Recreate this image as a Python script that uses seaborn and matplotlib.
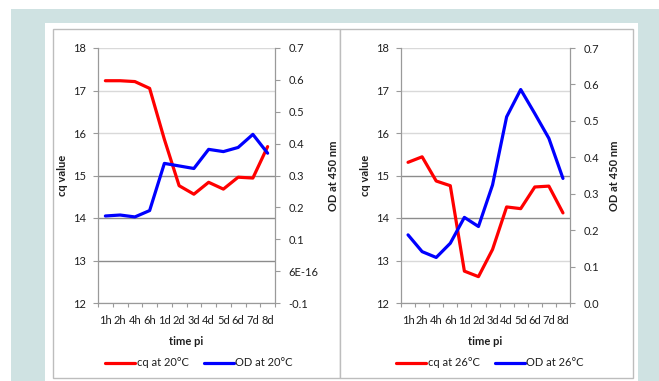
# cq value and OD over time post infection, 20°C vs 26°C
import numpy as np
import pandas as pd
import seaborn as sns
import matplotlib.pyplot as plt
from matplotlib.patches import Rectangle

# data
time_pi = ["1h", "2h", "4h", "6h", "1d", "2d", "3d", "4d", "5d", "6d", "7d", "8d"]
cq_20 = [17.23, 17.23, 17.21, 17.05, 15.85, 14.76, 14.56, 14.84, 14.68, 14.96, 14.94, 15.68]
od_20 = [0.173, 0.176, 0.170, 0.190, 0.338, 0.330, 0.322, 0.382, 0.375, 0.388, 0.429, 0.370]
cq_26 = [15.31, 15.44, 14.87, 14.76, 12.75, 12.62, 13.26, 14.26, 14.22, 14.73, 14.75, 14.12]
od_26 = [0.187, 0.141, 0.125, 0.164, 0.235, 0.210, 0.324, 0.511, 0.586, 0.520, 0.452, 0.342]

cq_ticks = [12, 13, 14, 15, 16, 17, 18]
od_ticks_20 = [-0.1, 0.0, 0.1, 0.2, 0.3, 0.4, 0.5, 0.6, 0.7]
od_labels_20 = ["-0.1", "6E-16", "0.1", "0.2", "0.3", "0.4", "0.5", "0.6", "0.7"]
od_ticks_26 = [0.0, 0.1, 0.2, 0.3, 0.4, 0.5, 0.6, 0.7]
od_labels_26 = ["0.0", "0.1", "0.2", "0.3", "0.4", "0.5", "0.6", "0.7"]

sns.set_theme(style="white")
plt.rcParams["font.family"] = ["Lato", "DejaVu Sans"]

W, H = 659, 381
fig = plt.figure(figsize=(W / 100, H / 100), dpi=100)
fig.patch.set_facecolor("white")


def fx(px):
    return px / W


def fy(py):
    return 1 - py / H


def box(x0, y0, x1, y1, **kw):
    fig.add_artist(Rectangle((fx(x0), fy(y1)), fx(x1) - fx(x0), fy(y0) - fy(y1),
                             transform=fig.transFigure, **kw))


# page background like the source figure
box(11, 9, 659, 381, facecolor="#cfe2e2", edgecolor="none", zorder=-5)
box(45, 23, 638, 381, facecolor="white", edgecolor="none", zorder=-4)
box(53, 29, 340, 378, facecolor="white", edgecolor="#bdbdbd", lw=1.0, zorder=-3)
box(340, 29, 633, 378, facecolor="white", edgecolor="#bdbdbd", lw=1.0, zorder=-3)

TXT = "#1f1f1f"
AX_COL = "#9a9a9a"
FS = 8


def panel(x0, x1, cq, od, od_ticks, od_labels, od_lim, temp, grid_cols, leg_x):
    ax = fig.add_axes([fx(x0), fy(303), fx(x1) - fx(x0), fy(48) - fy(303)])
    df = pd.DataFrame({"time": time_pi, "cq": cq, "od": od})
    sns.lineplot(data=df, x="time", y="cq", ax=ax, color="#ff0000", lw=2.3,
                 sort=False, solid_joinstyle="round", solid_capstyle="round")
    ax2 = ax.twinx()
    sns.lineplot(data=df, x="time", y="od", ax=ax2, color="#0000ff", lw=2.3,
                 sort=False, solid_joinstyle="round", solid_capstyle="round")

    ax.set_xlim(-0.5, len(time_pi) - 0.5)
    ax.set_xticks(np.arange(-0.5, len(time_pi), 1), minor=True)
    ax.set_ylim(12, 18)
    ax.set_yticks(cq_ticks)
    ax2.set_ylim(*od_lim)
    ax2.set_yticks(od_ticks)
    ax2.set_yticklabels(od_labels)

    ax.grid(axis="y", lw=1.0)
    for gl, c in zip(ax.get_ygridlines(), grid_cols):
        gl.set_color(c)
    ax.set_axisbelow(True)

    for a in (ax, ax2):
        for s in a.spines.values():
            s.set_color(AX_COL)
            s.set_linewidth(0.9)
        a.spines["top"].set_visible(False)
    ax.spines["right"].set_visible(False)
    ax2.spines["left"].set_visible(False)
    ax2.spines["bottom"].set_visible(False)

    ax.tick_params(axis="x", which="major", length=0, pad=9, labelsize=FS, labelcolor=TXT)
    ax.tick_params(axis="x", which="minor", length=3, width=0.8, color=AX_COL, bottom=True)
    ax.tick_params(axis="y", length=3.5, width=0.8, color=AX_COL, pad=5, labelsize=FS,
                   labelcolor=TXT, left=True)
    ax2.tick_params(axis="y", length=3.5, width=0.8, color=AX_COL, pad=6, labelsize=FS,
                    labelcolor=TXT, right=True)

    ax.set_xlabel("time pi", fontsize=FS, fontweight="bold", color=TXT, labelpad=7)
    ax.set_ylabel("cq value", fontsize=FS, fontweight="bold", color=TXT, labelpad=4)
    ax2.set_ylabel("OD at 450 nm", fontsize=FS, fontweight="bold", color=TXT, labelpad=7)

    fig.legend([ax.lines[0], ax2.lines[0]],
               [f"cq at {temp}°C", f"OD at {temp}°C"],
               loc="center", bbox_to_anchor=(fx(leg_x), fy(363)), ncol=2, frameon=False,
               fontsize=FS, labelcolor=TXT, handlelength=2.7, handletextpad=0.1,
               columnspacing=1.4)


panel(98, 275, cq_20, od_20, od_ticks_20, od_labels_20, (-0.1, 0.7), 20,
      ["#d9d9d9", "#8c8c8c", "#8c8c8c", "#8c8c8c", "#d9d9d9", "#d9d9d9", "#d9d9d9"], 199)
panel(401, 570, cq_26, od_26, od_ticks_26, od_labels_26, (0.0, 0.7), 26,
      ["#d9d9d9", "#d9d9d9", "#8c8c8c", "#8c8c8c", "#d9d9d9", "#d9d9d9", "#d9d9d9"], 490)

fig.savefig("out.png", dpi=100)
